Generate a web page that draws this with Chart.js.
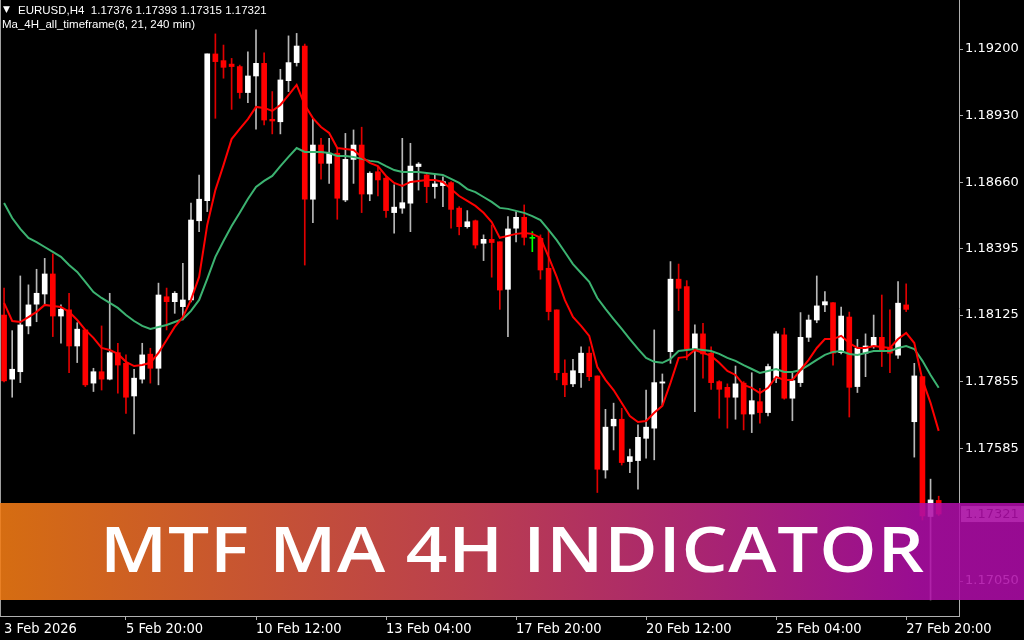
<!DOCTYPE html>
<html>
<head>
<meta charset="utf-8">
<title>EURUSD H4 - MTF MA 4H Indicator</title>
<script src="https://cdn.jsdelivr.net/npm/chart.js@4.4.1/dist/chart.umd.min.js"></script>
<style>
  html, body { margin: 0; padding: 0; background: #000; }
  #chart { display: block; }
</style>
</head>
<body>
<canvas id="chart" width="1024" height="640"></canvas>
<script>
// EURUSD H4 candles, 3 Feb 2026 04:00 .. 2 Mar 2026
var opens = [
  1.18125,1.17866,1.17896,1.18081,1.18169,1.18210,1.18291,1.18121,1.18146,1.18000,
  1.18065,1.17850,1.17896,1.17866,1.17973,1.17930,1.17798,1.17866,1.17967,1.17910,
  1.18199,1.18179,1.18159,1.18186,1.18506,1.18587,1.19180,1.19153,1.19139,1.19129,
  1.19024,1.19091,1.19142,1.18916,1.18906,1.19072,1.19145,1.19212,1.18593,1.18812,
  1.18738,1.18779,1.18590,1.18754,1.18812,1.18614,1.18704,1.18678,1.18539,1.18557,
  1.18577,1.18725,1.18691,1.18644,1.18648,1.18660,1.18557,1.18482,1.18506,1.18415,
  1.18431,1.18421,1.18229,1.18476,1.18520,1.18435,1.18435,1.18314,1.18146,1.17890,
  1.17847,1.17892,1.17971,1.17879,1.17499,1.17677,1.17704,1.17533,1.17537,1.17627,
  1.17668,1.17850,1.17977,1.18270,1.18240,1.17987,1.18049,1.17971,1.17856,1.17833,
  1.17793,1.17850,1.17725,1.17775,1.17731,1.17870,1.18045,1.17789,1.17852,1.18035,
  1.18105,1.18166,1.18175,1.17973,1.18117,1.17836,1.17971,1.18000,1.18035,1.17995,
  1.17963,1.18166,1.17694,1.17876,1.17311,1.17376
];
var highs = [
  1.18234,1.18062,1.18283,1.18247,1.18310,1.18354,1.18372,1.18166,1.18213,1.18094,
  1.18065,1.17910,1.18081,1.18213,1.18011,1.17964,1.17906,1.18011,1.17991,1.18254,
  1.18234,1.18220,1.18334,1.18577,1.18691,1.19180,1.19261,1.19216,1.19162,1.19135,
  1.19189,1.19277,1.19185,1.19028,1.19118,1.19253,1.19263,1.19220,1.18916,1.18839,
  1.18839,1.18799,1.18859,1.18873,1.18884,1.18704,1.18725,1.18684,1.18651,1.18839,
  1.18819,1.18741,1.18698,1.18691,1.18684,1.18664,1.18563,1.18547,1.18509,1.18449,
  1.18489,1.18421,1.18523,1.18543,1.18570,1.18462,1.18449,1.18469,1.18146,1.17944,
  1.17946,1.17997,1.17997,1.17879,1.17744,1.17769,1.17748,1.17583,1.17681,1.17822,
  1.18065,1.17887,1.18341,1.18331,1.18264,1.18085,1.18092,1.17997,1.17860,1.17847,
  1.17919,1.17856,1.17892,1.17829,1.17927,1.18058,1.18072,1.17890,1.18135,1.18125,
  1.18283,1.18220,1.18175,1.18157,1.18137,1.18027,1.18049,1.18125,1.18206,1.18146,
  1.18260,1.18251,1.17930,1.17876,1.17462,1.17393
];
var lows = [
  1.17855,1.17793,1.17852,1.18049,1.18098,1.18166,1.18038,1.18011,1.17892,1.17933,
  1.17836,1.17816,1.17822,1.17863,1.17809,1.17728,1.17645,1.17850,1.17850,1.17843,
  1.18065,1.18132,1.18105,1.18178,1.18462,1.18543,1.18920,1.19082,1.18956,1.19001,
  1.18983,1.18876,1.18893,1.18857,1.18857,1.19028,1.19131,1.18327,1.18498,1.18674,
  1.18657,1.18512,1.18583,1.18657,1.18539,1.18587,1.18606,1.18520,1.18456,1.18536,
  1.18462,1.18630,1.18579,1.18597,1.18563,1.18476,1.18449,1.18476,1.18395,1.18345,
  1.18278,1.18148,1.18038,1.18421,1.18408,1.18381,1.18270,1.18105,1.17863,1.17795,
  1.17836,1.17833,1.17860,1.17408,1.17466,1.17580,1.17519,1.17488,1.17421,1.17547,
  1.17540,1.17762,1.17930,1.18143,1.17944,1.17735,1.17870,1.17825,1.17708,1.17668,
  1.17704,1.17661,1.17650,1.17688,1.17717,1.17852,1.17785,1.17698,1.17836,1.18018,
  1.18094,1.18139,1.17923,1.17968,1.17713,1.17812,1.17876,1.17991,1.17917,1.17892,
  1.17950,1.18139,1.17551,1.17297,1.16974,1.17315
];
var closes = [
  1.17859,1.17906,1.18085,1.18166,1.18213,1.18291,1.18121,1.18148,1.18000,1.18068,
  1.17843,1.17896,1.17866,1.17973,1.17923,1.17793,1.17870,1.17964,1.17910,1.18206,
  1.18179,1.18213,1.18186,1.18509,1.18593,1.19180,1.19149,1.19126,1.19129,1.19024,
  1.19091,1.19142,1.18913,1.18909,1.19075,1.19145,1.19212,1.18593,1.18812,1.18738,
  1.18779,1.18597,1.18754,1.18812,1.18614,1.18698,1.18671,1.18547,1.18561,1.18579,
  1.18727,1.18735,1.18644,1.18655,1.18664,1.18552,1.18482,1.18502,1.18408,1.18431,
  1.18418,1.18226,1.18473,1.18520,1.18439,1.18435,1.18307,1.18139,1.17892,1.17843,
  1.17900,1.17971,1.17876,1.17502,1.17672,1.17704,1.17529,1.17553,1.17631,1.17672,
  1.17852,1.17855,1.18270,1.18233,1.17987,1.18049,1.17968,1.17852,1.17825,1.17793,
  1.17847,1.17725,1.17779,1.17731,1.17917,1.18049,1.17789,1.17860,1.18035,1.18105,
  1.18162,1.18179,1.17971,1.18121,1.17833,1.17991,1.18000,1.18035,1.17981,1.17971,
  1.18173,1.18148,1.17879,1.17313,1.17378,1.17321
];
// Ma_4H_all_timeframe: fast (8) and slow (21)
var maFast = [
  1.18174,1.18101,1.18097,1.18117,1.18138,1.18166,1.18162,1.18158,1.18138,1.18105,
  1.18065,1.18033,1.17992,1.17984,1.17968,1.17936,1.17919,1.17923,1.17932,1.17972,
  1.18024,1.18077,1.18117,1.18186,1.18279,1.18489,1.18630,1.18731,1.18836,1.18877,
  1.18917,1.18966,1.18962,1.18950,1.18974,1.19014,1.19055,1.18974,1.18921,1.18885,
  1.18861,1.18800,1.18796,1.18792,1.18764,1.18740,1.18727,1.18687,1.18659,1.18647,
  1.18663,1.18667,1.18671,1.18671,1.18663,1.18634,1.18606,1.18586,1.18566,1.18538,
  1.18501,1.18437,1.18445,1.18453,1.18457,1.18453,1.18437,1.18360,1.18279,1.18186,
  1.18117,1.18081,1.18041,1.17915,1.17863,1.17822,1.17770,1.17717,1.17693,1.17697,
  1.17730,1.17758,1.17851,1.17952,1.17956,1.17984,1.17972,1.17960,1.17932,1.17899,
  1.17883,1.17843,1.17831,1.17810,1.17831,1.17875,1.17863,1.17863,1.17903,1.17944,
  1.17992,1.18028,1.18028,1.18041,1.18012,1.17992,1.17992,1.18000,1.17996,1.17992,
  1.18028,1.18053,1.18012,1.17863,1.17770,1.17657
];
var maSlow = [
  1.18578,1.18517,1.18473,1.18437,1.18420,1.18400,1.18380,1.18360,1.18327,1.18299,
  1.18259,1.18218,1.18194,1.18174,1.18154,1.18125,1.18101,1.18081,1.18069,1.18077,
  1.18085,1.18097,1.18109,1.18142,1.18186,1.18271,1.18360,1.18424,1.18485,1.18538,
  1.18594,1.18643,1.18667,1.18687,1.18727,1.18764,1.18800,1.18784,1.18784,1.18784,
  1.18780,1.18768,1.18768,1.18764,1.18756,1.18748,1.18744,1.18727,1.18711,1.18703,
  1.18703,1.18703,1.18699,1.18695,1.18691,1.18675,1.18659,1.18634,1.18622,1.18602,
  1.18582,1.18558,1.18554,1.18546,1.18538,1.18525,1.18509,1.18469,1.18428,1.18380,
  1.18331,1.18295,1.18259,1.18194,1.18150,1.18109,1.18069,1.18028,1.17988,1.17952,
  1.17936,1.17932,1.17948,1.17980,1.17984,1.17988,1.17984,1.17980,1.17968,1.17952,
  1.17940,1.17923,1.17907,1.17891,1.17899,1.17907,1.17895,1.17895,1.17903,1.17923,
  1.17944,1.17964,1.17976,1.17980,1.17968,1.17964,1.17972,1.17980,1.17980,1.17980,
  1.17992,1.18000,1.17988,1.17940,1.17883,1.17831
];
var priceTicks = [1.19200, 1.18930, 1.18660, 1.18395, 1.18125, 1.17855, 1.17585, 1.17050];
var timeTickIndex = [0, 15, 31, 47, 63, 79, 95, 111];
var timeTickText = ['3 Feb 2026', '5 Feb 20:00', '10 Feb 12:00', '13 Feb 04:00',
                    '17 Feb 20:00', '20 Feb 12:00', '25 Feb 04:00', '27 Feb 20:00'];
var lastPrice = 1.17321;
var barSlots = 118; // two empty slots for chart shift on the right

var headerLine1 = 'EURUSD,H4  1.17376 1.17393 1.17315 1.17321';
var headerLine2 = 'Ma_4H_all_timeframe(8, 21, 240 min)';
var bannerText = 'MTF MA 4H INDICATOR';

var slotLabels = [];
for (var i = 0; i < barSlots; i++) slotLabels.push(String(i));

var bodyColors = opens.map(function (o, i) {
  if (closes[i] > o) return '#ffffff';
  if (closes[i] < o) return '#ff0000';
  return '#00ff00';
});
var wickColors = opens.map(function (o, i) {
  if (closes[i] > o) return '#b8b8b8';
  if (closes[i] < o) return '#e00000';
  return '#00ff00';
});

var overlay = {
  id: 'overlay',
  afterDraw: function (chart) {
    var ctx = chart.ctx;
    var area = chart.chartArea;
    var py = chart.scales.y.getPixelForValue(lastPrice);
    ctx.save();

    // left frame
    ctx.strokeStyle = '#a0a0a0';
    ctx.lineWidth = 1;
    ctx.beginPath();
    ctx.moveTo(0.5, 0);
    ctx.lineTo(0.5, area.bottom);
    ctx.stroke();

    // current price label
    ctx.fillStyle = '#d4d4d4';
    ctx.fillRect(area.right + 2, py - 8, 63, 16);
    ctx.fillStyle = '#000000';
    ctx.font = '13px "DejaVu Sans"';
    ctx.textBaseline = 'middle';
    ctx.fillText(lastPrice.toFixed(5), area.right + 6, py + 1);

    // header
    ctx.textBaseline = 'alphabetic';
    ctx.fillStyle = '#ffffff';
    ctx.font = '9px "DejaVu Sans"';
    ctx.fillText('\u25BC', 3, 12);
    ctx.font = '11.5px "Liberation Sans"';
    ctx.fillText(headerLine1, 18, 14);
    ctx.fillText(headerLine2, 2, 28);

    // banner
    var g = ctx.createLinearGradient(0, 0, chart.width, 0);
    g.addColorStop(0, 'rgba(243,124,20,0.88)');
    g.addColorStop(0.45, 'rgba(212,72,88,0.88)');
    g.addColorStop(0.9, 'rgba(174,14,166,0.88)');
    g.addColorStop(1, 'rgba(172,12,166,0.88)');
    ctx.fillStyle = g;
    ctx.fillRect(0, 503, chart.width, 97);

    // wide geometric look: stretch glyphs, fill the rest with spacing
    var sx = 1.14;
    ctx.fillStyle = '#ffffff';
    ctx.font = '600 64px "Open Sans"';
    ctx.letterSpacing = '0px';
    var w = ctx.measureText(bannerText).width;
    if (w * sx > 824) sx = 824 / w;
    ctx.letterSpacing = Math.max(0, (824 / sx - w) / (bannerText.length - 1)) + 'px';
    ctx.translate(100, 572);
    ctx.scale(sx, 1);
    ctx.fillText(bannerText, 0, 0);
    ctx.restore();
  }
};

new Chart(document.getElementById('chart').getContext('2d'), {
  type: 'bar',
  data: {
    labels: slotLabels,
    datasets: [{
      type: 'line',
      label: 'MA 8',
      data: maFast,
      borderColor: '#ff0000',
      borderWidth: 2,
      pointRadius: 0,
      tension: 0,
      order: 0
    }, {
      type: 'line',
      label: 'MA 21',
      data: maSlow,
      borderColor: '#3cb371',
      borderWidth: 2,
      pointRadius: 0,
      tension: 0,
      order: 1
    }, {
      label: 'Body',
      data: opens.map(function (o, i) { return [o, closes[i]]; }),
      backgroundColor: bodyColors,
      barThickness: 5,
      minBarLength: 1,
      grouped: false,
      order: 2
    }, {
      label: 'Wick',
      data: lows.map(function (l, i) { return [l, highs[i]]; }),
      backgroundColor: wickColors,
      barThickness: 1,
      grouped: false,
      order: 3
    }]
  },
  options: {
    responsive: false,
    animation: false,
    devicePixelRatio: 1,
    layout: { padding: 0 },
    plugins: {
      legend: { display: false },
      tooltip: { enabled: false }
    },
    scales: {
      x: {
        type: 'category',
        offset: true,
        grid: {
          drawOnChartArea: false,
          tickLength: 4,
          offset: false,
          color: function (c) {
            return timeTickIndex.indexOf(c.index) > 0 ? '#b0b0b0' : 'rgba(0,0,0,0)';
          }
        },
        border: { color: '#b0b0b0' },
        ticks: {
          autoSkip: false,
          maxRotation: 0,
          minRotation: 0,
          align: 'start',
          padding: 1,
          color: '#ffffff',
          font: { family: '"Liberation Sans Narrow", "DejaVu Sans Condensed", "Liberation Sans"', size: 14.5 },
          callback: function (v, i) {
            var k = timeTickIndex.indexOf(i);
            return k >= 0 ? timeTickText[k] : '';
          }
        },
        afterFit: function (s) { s.height = 24; s.paddingLeft = 0; s.paddingRight = 0; }
      },
      y: {
        position: 'right',
        min: 1.16909,
        max: 1.19398,
        afterBuildTicks: function (s) {
          s.ticks = priceTicks.map(function (v) { return { value: v }; });
        },
        grid: { drawOnChartArea: false, tickLength: 4, color: '#b0b0b0' },
        border: { color: '#b0b0b0' },
        ticks: {
          color: '#ffffff',
          padding: 2,
          font: { family: 'DejaVu Sans', size: 13 },
          callback: function (v) { return Number(v).toFixed(5); }
        },
        afterFit: function (s) { s.width = 65; s.paddingTop = 0; s.paddingBottom = 0; }
      }
    }
  },
  plugins: [overlay]
});
</script>
</body>
</html>
